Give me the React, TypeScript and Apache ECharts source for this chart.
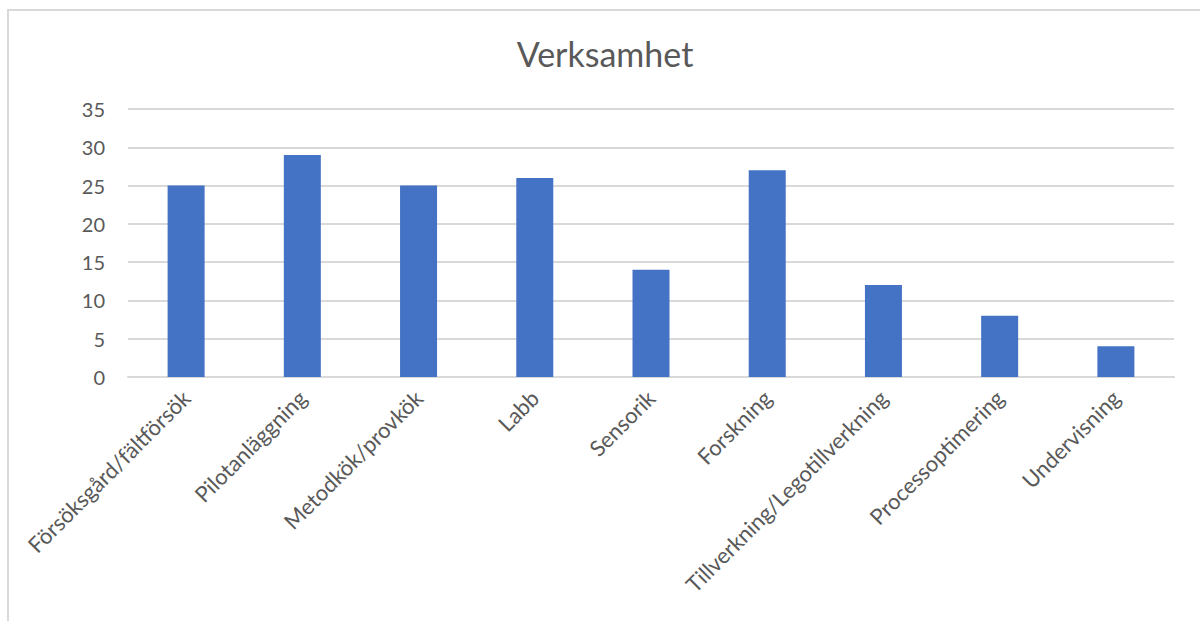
import React, { useEffect, useRef } from "react";
import * as echarts from "echarts";

const titleText = "Verksamhet";
const categories = [
  "Försöksgård/fältförsök",
  "Pilotanläggning",
  "Metodkök/provkök",
  "Labb",
  "Sensorik",
  "Forskning",
  "Tillverkning/Legotillverkning",
  "Processoptimering",
  "Undervisning",
];
const values = [25, 29, 25, 26, 14, 27, 12, 8, 4];
const yMin = 0;
const yMax = 35;
const yInterval = 5;

const FONT = "Lato, 'Open Sans', sans-serif";
const TEXT = "#595959";

export default function App() {
  const ref = useRef<HTMLDivElement>(null);
  useEffect(() => {
    if (!ref.current) return;
    const chart = echarts.init(ref.current, undefined, { renderer: "svg" });
    chart.setOption({
      animation: false,
      backgroundColor: "#ffffff",
      title: {
        text: titleText,
        left: 600,
        textAlign: "center",
        top: 31,
        textStyle: { fontFamily: FONT, fontSize: 34, fontWeight: "normal", color: TEXT },
      },
      graphic: [
        {
          type: "rect",
          shape: { x: 8, y: 10, width: 1300, height: 800 },
          style: { fill: "none", stroke: "#d9d9d9", lineWidth: 2 },
          silent: true,
        },
      ],
      grid: { left: 128, right: 26, top: 109, bottom: 244, containLabel: false },
      xAxis: {
        type: "category",
        data: categories,
        axisLine: { show: true, lineStyle: { color: "#d9d9d9", width: 2 } },
        axisTick: { show: false },
        axisLabel: {
          rotate: 45,
          interval: 0,
          margin: 17,
          fontFamily: FONT,
          fontSize: 22,
          color: TEXT,
        },
      },
      yAxis: {
        type: "value",
        min: yMin,
        max: yMax,
        interval: yInterval,
        axisLine: { show: false },
        axisTick: { show: false },
        splitLine: { lineStyle: { color: "#d9d9d9", width: 2 } },
        axisLabel: { margin: 23, fontFamily: FONT, fontSize: 20, color: TEXT },
      },
      series: [
        {
          type: "bar",
          data: values,
          barWidth: 37,
          itemStyle: { color: "#4472c4" },
        },
      ],
    });
    return () => chart.dispose();
  }, []);
  return (
    <div
      ref={ref}
      style={{ position: "fixed", left: 0, top: 0, width: 1200, height: 621 }}
    />
  );
}
